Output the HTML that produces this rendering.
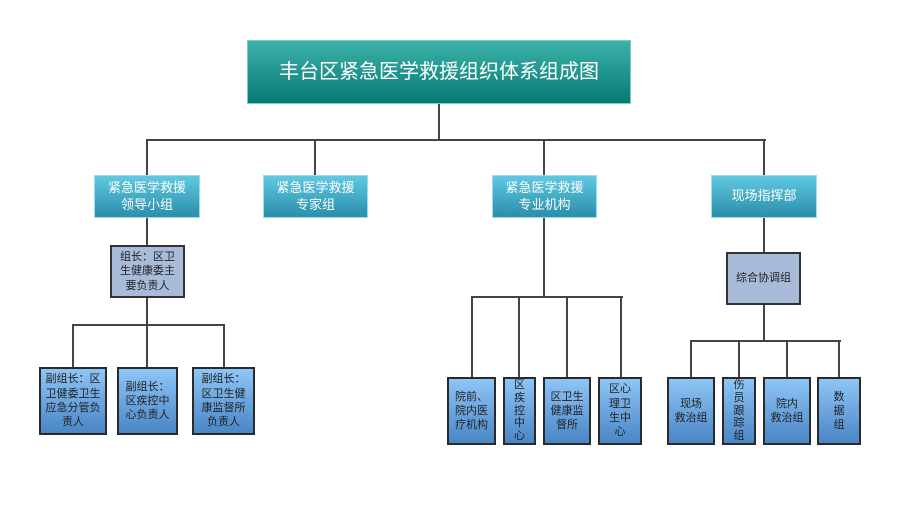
<!DOCTYPE html>
<html><head><meta charset="utf-8"><style>
body{margin:0;width:900px;height:505px;background:#fff;position:relative;overflow:hidden;font-family:"Liberation Sans","Noto Sans CJK SC",sans-serif}
.b{position:absolute;display:flex;align-items:center;justify-content:center;text-align:center;box-sizing:border-box;line-height:1.3}
.t{background:linear-gradient(#3cb2ab,#057a72);color:#fff;font-size:20px;border:1px solid #7cc}
.l2{background:linear-gradient(#60c9e2,#2b8eaa);color:#fff;font-size:13px;border:1px solid #9de}
.g{background:#a8bbd9;border:2px solid #333;color:#222;font-size:11px}
.c{background:linear-gradient(#8fc6f7,#4a86c6);border:2px solid #2a2a2a;color:#222;font-size:11px}
.h,.v{position:absolute;background:#444}
.h{height:2px}.v{width:2px}
</style></head><body>
<div class="b t" style="left:247px;top:40px;width:384px;height:64px">丰台区紧急医学救援组织体系组成图</div>
<div class="v" style="left:438px;top:104px;height:37px"></div>
<div class="h" style="left:146px;top:139px;width:620px"></div>
<div class="v" style="left:146px;top:139px;height:36px"></div>
<div class="v" style="left:314px;top:139px;height:36px"></div>
<div class="v" style="left:543px;top:139px;height:36px"></div>
<div class="v" style="left:763px;top:139px;height:36px"></div>
<div class="b l2" style="left:94px;top:175px;width:106px;height:43px">紧急医学救援<br>领导小组</div>
<div class="b l2" style="left:263px;top:175px;width:105px;height:43px">紧急医学救援<br>专家组</div>
<div class="b l2" style="left:492px;top:175px;width:105px;height:43px">紧急医学救援<br>专业机构</div>
<div class="b l2" style="left:711px;top:175px;width:106px;height:43px">现场指挥部</div>

<div class="v" style="left:146px;top:218px;height:27px"></div>
<div class="b g" style="left:110px;top:245px;width:75px;height:53px">组长：区卫<br>生健康委主<br>要负责人</div>
<div class="v" style="left:146px;top:298px;height:69px"></div>
<div class="h" style="left:72px;top:324px;width:153px"></div>
<div class="v" style="left:72px;top:324px;height:43px"></div>
<div class="v" style="left:223px;top:324px;height:43px"></div>
<div class="b c" style="left:39px;top:367px;width:68px;height:68px">副组长：区<br>卫健委卫生<br>应急分管负<br>责人</div>
<div class="b c" style="left:117px;top:367px;width:61px;height:68px">副组长：<br>区疾控中<br>心负责人</div>
<div class="b c" style="left:192px;top:367px;width:63px;height:68px">副组长：<br>区卫生健<br>康监督所<br>负责人</div>

<div class="v" style="left:543px;top:218px;height:80px"></div>
<div class="h" style="left:471px;top:296px;width:152px"></div>
<div class="v" style="left:471px;top:296px;height:81px"></div>
<div class="v" style="left:518px;top:296px;height:81px"></div>
<div class="v" style="left:566px;top:296px;height:81px"></div>
<div class="v" style="left:620px;top:296px;height:81px"></div>
<div class="b c" style="left:447px;top:377px;width:49px;height:68px">院前、<br>院内医<br>疗机构</div>
<div class="b c" style="left:503px;top:377px;width:33px;height:68px;line-height:1.15">区<br>疾<br>控<br>中<br>心</div>
<div class="b c" style="left:543px;top:377px;width:48px;height:68px">区卫生<br>健康监<br>督所</div>
<div class="b c" style="left:598px;top:377px;width:44px;height:68px">区心<br>理卫<br>生中<br>心</div>

<div class="v" style="left:763px;top:218px;height:34px"></div>
<div class="b g" style="left:726px;top:252px;width:75px;height:53px">综合协调组</div>
<div class="v" style="left:763px;top:305px;height:37px"></div>
<div class="h" style="left:690px;top:340px;width:151px"></div>
<div class="v" style="left:690px;top:340px;height:37px"></div>
<div class="v" style="left:738px;top:340px;height:37px"></div>
<div class="v" style="left:786px;top:340px;height:37px"></div>
<div class="v" style="left:838px;top:340px;height:37px"></div>
<div class="b c" style="left:667px;top:377px;width:48px;height:68px">现场<br>救治组</div>
<div class="b c" style="left:722px;top:377px;width:34px;height:68px;line-height:1.15">伤<br>员<br>跟<br>踪<br>组</div>
<div class="b c" style="left:763px;top:377px;width:48px;height:68px">院内<br>救治组</div>
<div class="b c" style="left:817px;top:377px;width:44px;height:68px">数<br>据<br>组</div>
</body></html>
